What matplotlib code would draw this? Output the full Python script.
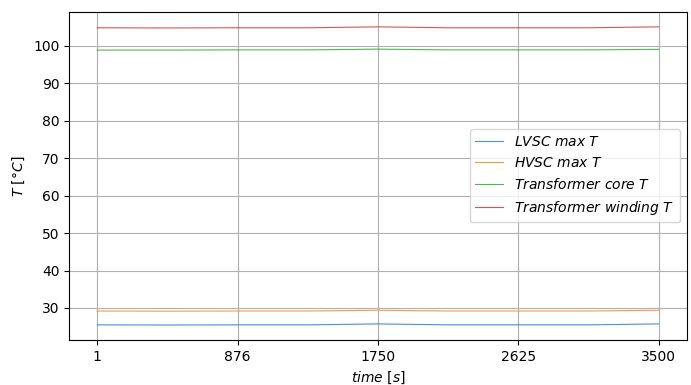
import matplotlib
matplotlib.use("Agg")
import matplotlib.pyplot as plt

time = [1, 438, 876, 1313, 1750, 2188, 2625, 3063, 3500]
lvsc = [25.5, 25.45, 25.5, 25.5, 25.75, 25.5, 25.5, 25.5, 25.75]
hvsc = [29.2, 29.15, 29.2, 29.2, 29.4, 29.2, 29.2, 29.2, 29.4]
core = [98.8, 98.8, 98.85, 98.85, 99.05, 98.85, 98.85, 98.85, 99.0]
winding = [104.75, 104.7, 104.75, 104.75, 105.0, 104.75, 104.75, 104.75, 105.0]

labels = [r"$LVSC\ max\ T$", r"$HVSC\ max\ T$",
          r"$Transformer\ core\ T$", r"$Transformer\ winding\ T$"]
xticks = [1, 876, 1750, 2625, 3500]

fig, ax = plt.subplots(figsize=(6.91, 3.85), dpi=100)
for y, lab in zip([lvsc, hvsc, core, winding], labels):
    ax.plot(time, y, linewidth=0.8, alpha=0.8, label=lab)
ax.set_xticks(xticks)
ax.set_xticklabels([str(t) for t in xticks])
ax.grid(True)
ax.set_xlabel(r"$time\ [s]$")
ax.set_ylabel(r"$T\ [°C]$")
ax.legend(loc="center right")
fig.subplots_adjust(left=0.1, right=0.994, top=0.969, bottom=0.117)
fig.savefig("out.png", dpi=100)
